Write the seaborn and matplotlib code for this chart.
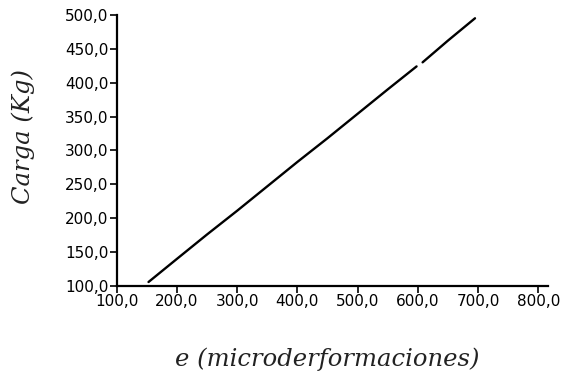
import numpy as np
import pandas as pd
import matplotlib
matplotlib.use('Agg')
import matplotlib.pyplot as plt
from matplotlib.ticker import FuncFormatter
import seaborn as sns

sns.set_style('ticks')
plt.rcParams['font.family'] = ['DejaVu Sans']

# valores (dos tramos, hay un pequeño hueco cerca de 600)
e_1 = [153, 200, 250, 300, 350, 400, 450, 500, 550, 598]
carga_1 = [106, 140, 176, 211, 247, 283, 318, 354, 390, 424]
e_2 = [608, 650, 695]
carga_2 = [430, 462, 495]

df = pd.concat([
    pd.DataFrame({'e': e_1, 'carga': carga_1, 'tramo': 1}),
    pd.DataFrame({'e': e_2, 'carga': carga_2, 'tramo': 2}),
])

fig = plt.figure(figsize=(5.66, 3.72), dpi=100)
ax = fig.add_axes([0.206, 0.231, 0.762, 0.729])

sns.lineplot(data=df, x='e', y='carga', units='tramo', estimator=None,
             color='black', lw=1.7, ax=ax)

ax.set_xlim(100, 816)
ax.set_ylim(100, 500)
ax.set_xticks(np.arange(100, 801, 100))
ax.set_yticks(np.arange(100, 501, 50))
fmt = FuncFormatter(lambda v, p: f'{v:.1f}'.replace('.', ','))
ax.xaxis.set_major_formatter(fmt)
ax.yaxis.set_major_formatter(fmt)
ax.tick_params(labelsize=11, length=5, width=1.2, pad=1,
               colors='black', labelcolor='black')
for s in ['left', 'bottom']:
    ax.spines[s].set_linewidth(1.6)
    ax.spines[s].set_color('black')
sns.despine(ax=ax)

ax.set_xlabel('e (microderformaciones)', fontsize=17.5, family='DejaVu Serif',
              style='italic', color='#222222')
ax.set_ylabel('Carga (Kg)', fontsize=17.5, family='DejaVu Serif',
              style='italic', color='#222222')
ax.xaxis.set_label_coords(0.488, -0.225)
ax.yaxis.set_label_coords(-0.19, 0.55)

fig.savefig('out.png', dpi=100)
